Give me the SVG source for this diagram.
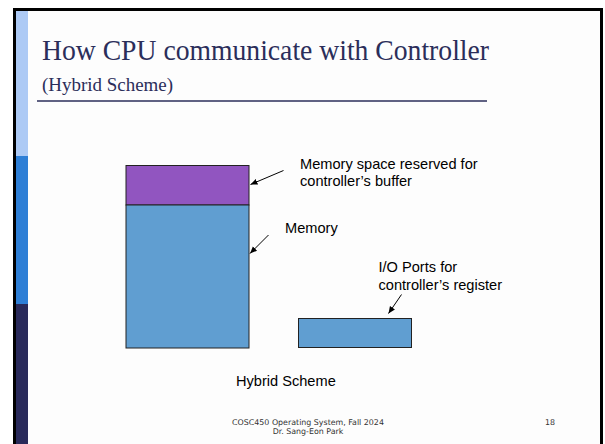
<svg xmlns="http://www.w3.org/2000/svg" width="605" height="444" viewBox="0 0 605 444">
<defs>
<style>
.serif{font-family:"Liberation Serif","DejaVu Serif",serif;fill:#2b2e5a}
.sans{font-family:"Liberation Sans",Arial,sans-serif;font-size:14.6px;fill:#000}
.foot{font-family:"DejaVu Sans",Verdana,sans-serif;font-size:7.9px;fill:#333}
.box{stroke:#222;stroke-width:1}
.arrow{stroke:#000;stroke-width:1;fill:none;marker-end:url(#ah)}
</style>
<marker id="ah" markerWidth="8" markerHeight="8" refX="7" refY="4" orient="auto" markerUnits="userSpaceOnUse">
<path d="M0,1 L7,4 L0,7 Z" fill="#000"/>
</marker>
</defs>
<rect width="605" height="444" fill="#fff"/>
<g id="frame">
<rect x="14.5" y="9.5" width="587" height="440" fill="#fdfdfd" stroke="#000" stroke-width="3"/>
<rect x="16" y="11" width="12" height="145" fill="#adcaf5"/>
<rect x="16" y="156" width="12" height="148" fill="#2e7fd6"/>
<rect x="16" y="304" width="12" height="140" fill="#292a5a"/>
</g>
<g id="title">
<text class="serif" x="42" y="60" font-size="30" textLength="447" lengthAdjust="spacingAndGlyphs">How CPU communicate with Controller</text>
<text class="serif" x="42" y="90.5" font-size="18" textLength="131" lengthAdjust="spacingAndGlyphs">(Hybrid Scheme)</text>
<line x1="37" y1="101" x2="487" y2="101" stroke="#2b2e5a" stroke-width="1.5"/>
</g>
<g id="buffer">
<rect class="box" x="126" y="165.5" width="123" height="39.5" fill="#9155c0"/>
</g>
<g id="memory">
<rect class="box" x="126" y="205" width="123" height="143" fill="#609ed1"/>
</g>
<g id="ioports">
<rect class="box" x="298.5" y="318.5" width="113" height="29" fill="#609ed1"/>
</g>
<g id="connectors">
<line class="arrow" x1="283.5" y1="170.5" x2="250.5" y2="184.5"/>
<line class="arrow" x1="268.5" y1="235" x2="250" y2="253.5"/>
<line class="arrow" x1="401.5" y1="294.5" x2="388.5" y2="313.5"/>
</g>
<g id="labels">
<text class="sans" x="300" y="168.5">Memory space reserved for</text>
<text class="sans" x="300" y="185.5">controller’s buffer</text>
<text class="sans" x="285" y="232.5">Memory</text>
<text class="sans" x="378.5" y="272">I/O Ports for</text>
<text class="sans" x="378.5" y="289.5">controller’s register</text>
<text class="sans" x="236" y="386">Hybrid Scheme</text>
</g>
<g id="footer">
<text class="foot" x="308" y="424.5" text-anchor="middle">COSC450 Operating System, Fall 2024</text>
<text class="foot" x="308" y="433.5" text-anchor="middle">Dr. Sang-Eon Park</text>
<text class="foot" x="545" y="424.5">18</text>
</g>
</svg>
